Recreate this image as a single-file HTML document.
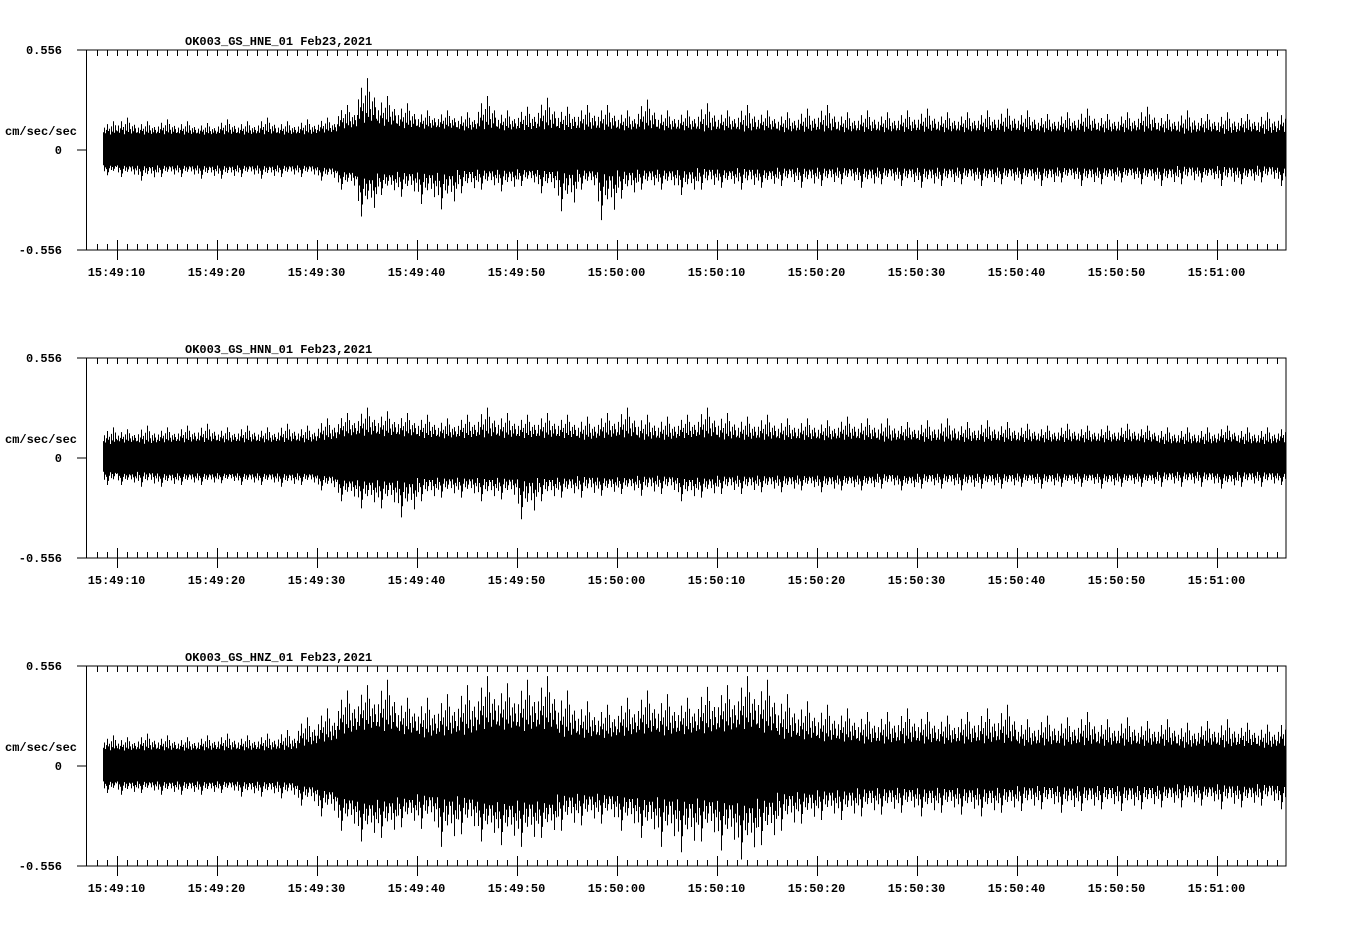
<!DOCTYPE html>
<html><head><meta charset="utf-8"><style>
html,body{margin:0;padding:0;background:#fff;}
svg text{font-family:"Liberation Mono",monospace;font-weight:bold;font-size:12px;fill:#000;}
</style></head><body>
<svg id="chart" width="1358" height="924" viewBox="0 0 1358 924" xmlns="http://www.w3.org/2000/svg"></svg>
<script>
// seconds after 15:49:00, bin centers every 2 s
const binStart = 9, binStep = 2;
const tickLabels = ["15:49:10","15:49:20","15:49:30","15:49:40","15:49:50","15:50:00","15:50:10","15:50:20","15:50:30","15:50:40","15:50:50","15:51:00"];
const channelNames = ["OK003_GS_HNE_01","OK003_GS_HNN_01","OK003_GS_HNZ_01"];
const dateLabel = "Feb23,2021";
const fullScale = 0.556;
const dataStart = 8.65, dataEnd = 126.95;

const hneCore = [.08,.08,.08,.08,.08,.08,.08,.08,.08,.08,.08, .09, .11,.13,.12,.11, .11,.11,.10, .10,.10,.10,.10,.10, .10,.10,.10,.10,.10, .10,.09,.10,.09,.10, .09,.09,.09,.09,.09,.09,.09,.09,.09,.09,.09,.09, .09,.09,.09,.09,.09,.09,.09,.09, .08,.09,.08,.09,.08,.09];
const hneUp = [.16,.18,.16,.17,.16,.15,.17,.16,.18,.16,.17, .18, .25,.40,.30,.26, .22,.22,.21, .30,.22,.24,.29,.24, .25,.25,.22,.28,.22, .22,.26,.22,.25,.22, .21,.23,.25,.21,.22,.21,.22,.23,.21,.21,.22,.23, .22,.20,.21,.23,.20,.21,.24,.20, .22,.20,.21,.20,.21,.22];
const hneDn = [.14,.15,.17,.15,.15,.16,.16,.15,.16,.15,.15, .17, .22,.37,.25,.26, .30,.33,.24, .22,.23,.20,.24,.34, .22,.39,.27,.22,.22, .25,.22,.21,.22,.21, .20,.21,.20,.19,.21,.19,.20,.21,.20,.19,.20,.19, .19,.20,.18,.20,.19,.18,.19,.20, .19,.18,.20,.19,.18,.20];

const hnnCore = [.07,.08,.07,.08,.08,.08,.08,.08,.08,.08,.08, .09, .11,.11,.11,.11, .10,.10,.10, .10,.10,.10,.10,.10, .09,.10,.10,.09,.09, .10,.10,.09,.09,.09, .09,.09,.09,.09,.09,.08,.09,.08,.08,.08,.08,.08, .08,.08,.08,.08,.08,.08,.08,.07, .07,.07,.08,.07,.07,.08];
const hnnUp = [.17,.16,.18,.17,.18,.19,.17,.18,.17,.19,.18, .22, .25,.28,.26,.25, .24,.22,.24, .28,.25,.24,.25,.24, .23,.25,.28,.24,.23, .24,.28,.25,.23,.24, .22,.22,.21,.23,.22,.22,.20,.21,.22,.20,.21,.20, .19,.18,.19,.18,.18,.19,.18,.17, .17,.17,.18,.17,.17,.18];
const hnnDn = [.15,.15,.16,.16,.15,.15,.14,.15,.15,.16,.15, .18, .24,.28,.28,.33, .24,.22,.22, .24,.23,.34,.24,.22, .22,.21,.20,.21,.20, .24,.22,.20,.20,.19, .19,.18,.19,.18,.18,.17,.18,.17,.17,.18,.17,.17, .16,.17,.16,.16,.17,.16,.16,.16, .16,.16,.17,.16,.16,.15];

const hnzCore = [.08,.08,.08,.08,.08,.08,.08,.08,.08,.08, .10,.12, .16,.18,.17,.16, .14,.15,.15, .18,.18,.17,.18,.14, .14,.14, .15,.16,.15,.16,.16, .17,.18,.16, .13,.13,.12,.12, .11,.11,.11,.11,.11,.11,.11,.11, .10,.10,.10,.10,.10,.10,.10,.10, .09,.10,.09,.10,.09,.10];
const hnzUp = [.17,.16,.18,.17,.16,.17,.18,.17,.18,.20, .27,.32, .42,.45,.48,.38, .38,.40,.45, .50,.46,.48,.50,.42, .36,.34, .38,.42,.40,.38,.44, .45,.50,.48, .40,.36,.34,.32, .30,.30,.32,.30,.28,.30,.32,.34, .26,.28,.27,.30,.26,.27,.25,.26, .24,.25,.26,.24,.23,.26];
const hnzDn = [.15,.16,.15,.16,.16,.16,.15,.17,.17,.18, .22,.28, .36,.42,.40,.34, .35,.45,.38, .42,.44,.45,.40,.36, .33,.32, .36,.40,.45,.48,.42, .47,.52,.44, .36,.32,.30,.30, .28,.27,.26,.28,.26,.27,.28,.26, .25,.24,.26,.25,.24,.25,.24,.23, .23,.22,.24,.23,.22,.24];

const channelCore = [hneCore, hnnCore, hnzCore];
const channelUp = [hneUp, hnnUp, hnzUp];
const channelDn = [hneDn, hnnDn, hnzDn];

const NS = "http://www.w3.org/2000/svg";
const svg = document.getElementById("chart");
const panelTops = [50, 358, 666];
const plotLeft = 86.5, plotRight = 1286, plotH = 200;
const texture = [0.3,0.7,0.2,0.5,1.0,0.4,0.6,0.1,0.8,0.35,0.55,0.25,0.9,0.45,0.15,0.65,0.3,0.75,0.5,0.2];
function xScale(t){ return 116.5 + (t - 10) * 10; }
function clampT(t){ return Math.min(Math.max(t, dataStart), dataEnd); }
function mk(tag, attrs, parent){ const e = document.createElementNS(NS, tag); for (const k in attrs) e.setAttribute(k, attrs[k]); (parent||svg).appendChild(e); return e; }

panelTops.forEach((top, p) => {
  const g = mk("g", {});
  
  
  const y0 = top + plotH/2;
  const yS = v => (plotH/2) * v / fullScale;
  const title = mk("text", {x:185, y:top-5}, g);
  
  
  title.textContent = channelNames[p] + "  " + dateLabel;
  const yl = [["0.556", top], ["0", y0], ["-0.556", top+plotH]];
  yl.forEach(([s, y]) => {
    const t = mk("text", {x:62, y:y+4, "text-anchor":"end"}, g);
    
    
    t.textContent = s;
  });
  const unit = mk("text", {x:5, y:y0-15}, g);
  
  
  unit.textContent = "cm/sec/sec";
  // trace
  const core = channelCore[p], up = channelUp[p], dn = channelDn[p];
  let lines = "";
  const n = core.length;
  for (let i = 0; i < n; i++) {
    const tc = binStart + binStep*i;
    const a = clampT(tc - binStep/2), b = clampT(tc + binStep/2);
    const xa = Math.round(xScale(a)), xb = Math.round(xScale(b));
    for (let x = xa, j = 0; x < xb; x++, j++) {
      const wu = texture[j % texture.length], wd = texture[(j + 7) % texture.length];
      const hu = yS(core[i]) + (yS(up[i]) - yS(core[i])) * (j === 10 ? 1 : wu * 0.8);
      const hd = yS(core[i]) + (yS(dn[i]) - yS(core[i])) * (j === 4 ? 1 : wd * 0.8);
      lines += `M${x+0.5} ${(y0-hu).toFixed(1)}V${(y0+hd).toFixed(1)}`;
    }
  }
  const trace = mk("path", {d:lines, stroke:"#000", "stroke-width":1, fill:"none"}, g);
  
  
  const band = [];
  for (let i = 0; i < n; i++) band.push(`${xScale(clampT(binStart+binStep*i)).toFixed(1)},${(y0-yS(core[i])).toFixed(1)}`);
  for (let i = n-1; i >= 0; i--) band.push(`${xScale(clampT(binStart+binStep*i)).toFixed(1)},${(y0+yS(core[i])).toFixed(1)}`);
  const poly = mk("polygon", {points:band.join(" "), fill:"#000"}, g);
  
  
  // frame
  const frame = mk("path", {d:`M77 ${top}H${plotRight}V${top+plotH}H77M${plotLeft} ${top}V${top+plotH}M77 ${y0}H${plotLeft}`, fill:"none", stroke:"#000", "stroke-width":1, "shape-rendering":"crispEdges"}, g);
  
  
  let td = "";
  for (let s = 7; s <= 137; s++) {
    const x = Math.round(xScale(s)) + 0.5;
    if (x <= plotLeft + 1 || x >= plotRight) continue;
    td += `M${x} ${top}v6M${x} ${top+plotH}v-6`;
    if (s % 10 === 0) td += `M${x} ${top+plotH-10}v20`;
  }
  const ticks = mk("path", {d:td, stroke:"#000", "stroke-width":1, "shape-rendering":"crispEdges"}, g);
  
  
  tickLabels.forEach((lab, k) => {
    const t = mk("text", {x:xScale(10 + 10*k), y:top+plotH+26, "text-anchor":"middle"}, g);
    
    
    t.textContent = lab;
  });
});
</script>
</body></html>
